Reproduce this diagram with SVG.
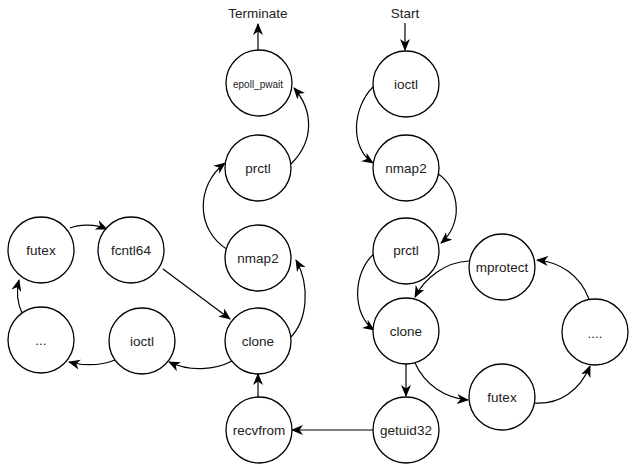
<svg xmlns="http://www.w3.org/2000/svg" width="631" height="471" viewBox="0 0 631 471">
<defs>
<marker id="arr" markerUnits="userSpaceOnUse" markerWidth="13" markerHeight="11" refX="11" refY="5" orient="auto">
<path d="M0,0 L12,5 L0,10 L3.5,5 z" fill="#000"/>
</marker>
<style>
circle{fill:#fff;stroke:#000;stroke-width:1.3}
text{font-family:"Liberation Sans",Arial,sans-serif;font-size:13.5px;fill:#222;text-anchor:middle;dominant-baseline:central}
.c{fill:none;stroke:#000;stroke-width:1.2;marker-end:url(#arr)}
</style>
</defs>
<rect width="631" height="471" fill="#fff"/>
<text x="258" y="13">Terminate</text>
<text x="405" y="13">Start</text>
<g id="connectors">
<path class="c" d="M405,23 L405,50"/>
<path class="c" d="M258,50 L258,24"/>
<path class="c" d="M373,87 C352,108 350,148 373,163"/>
<path class="c" d="M437,173 C462,190 462,225 441,243"/>
<path class="c" d="M375,253 C352,272 352,315 374,330"/>
<path class="c" d="M469,261 C445,262 425,278 415,297"/>
<path class="c" d="M415,363 C425,385 445,398 468,400"/>
<path class="c" d="M534,403 C560,405 580,390 590,366"/>
<path class="c" d="M589,299 C580,275 560,262 537,260"/>
<path class="c" d="M406,364 L406,396"/>
<path class="c" d="M373,430 L292,430"/>
<path class="c" d="M258,397 L258,374"/>
<path class="c" d="M232,361 C215,370 190,372 169,362"/>
<path class="c" d="M115,360 C100,366 85,366 69,362"/>
<path class="c" d="M22,313 C17,302 16,292 19,280"/>
<path class="c" d="M70,228 C80,224 95,224 107,229"/>
<path class="c" d="M163,269 L230,319"/>
<path class="c" d="M290,338 C308,320 310,285 296,260"/>
<path class="c" d="M228,250 C195,230 196,185 225,163"/>
<path class="c" d="M291,164 C315,140 313,110 294,88"/>
</g>
<g id="n-epoll"><circle cx="259" cy="83" r="33"/><text x="258" y="84" style="font-size:10px">epoll_pwait</text></g>
<g id="n-ioctlR"><circle cx="406" cy="84" r="33"/><text x="406" y="84">ioctl</text></g>
<g id="n-nmap2R"><circle cx="406" cy="168" r="33"/><text x="406" y="168">nmap2</text></g>
<g id="n-prctlL"><circle cx="258" cy="168" r="33"/><text x="258" y="168">prctl</text></g>
<g id="n-nmap2L"><circle cx="258" cy="258" r="33"/><text x="258" y="258">nmap2</text></g>
<g id="n-futexL"><circle cx="41" cy="250" r="33"/><text x="41" y="250">futex</text></g>
<g id="n-fcntl64"><circle cx="131" cy="250" r="33"/><text x="131" y="250">fcntl64</text></g>
<g id="n-dotsL"><circle cx="41" cy="340" r="33"/><text x="41" y="340">...</text></g>
<g id="n-ioctlL"><circle cx="142" cy="341" r="33"/><text x="142" y="341">ioctl</text></g>
<g id="n-cloneL"><circle cx="258" cy="341" r="33"/><text x="258" y="341">clone</text></g>
<g id="n-recvfrom"><circle cx="259" cy="430" r="33"/><text x="259" y="430">recvfrom</text></g>
<g id="n-getuid32"><circle cx="406" cy="430" r="33"/><text x="406" y="430">getuid32</text></g>
<g id="n-cloneR"><circle cx="406" cy="331" r="33"/><text x="406" y="331">clone</text></g>
<g id="n-prctlR"><circle cx="406" cy="251" r="33"/><text x="406" y="250">prctl</text></g>
<g id="n-mprotect"><circle cx="502" cy="267" r="33"/><text x="502" y="267">mprotect</text></g>
<g id="n-dotsR"><circle cx="595" cy="332" r="33"/><text x="595" y="333">....</text></g>
<g id="n-futexR"><circle cx="502" cy="397" r="33"/><text x="502" y="397">futex</text></g>
</svg>
